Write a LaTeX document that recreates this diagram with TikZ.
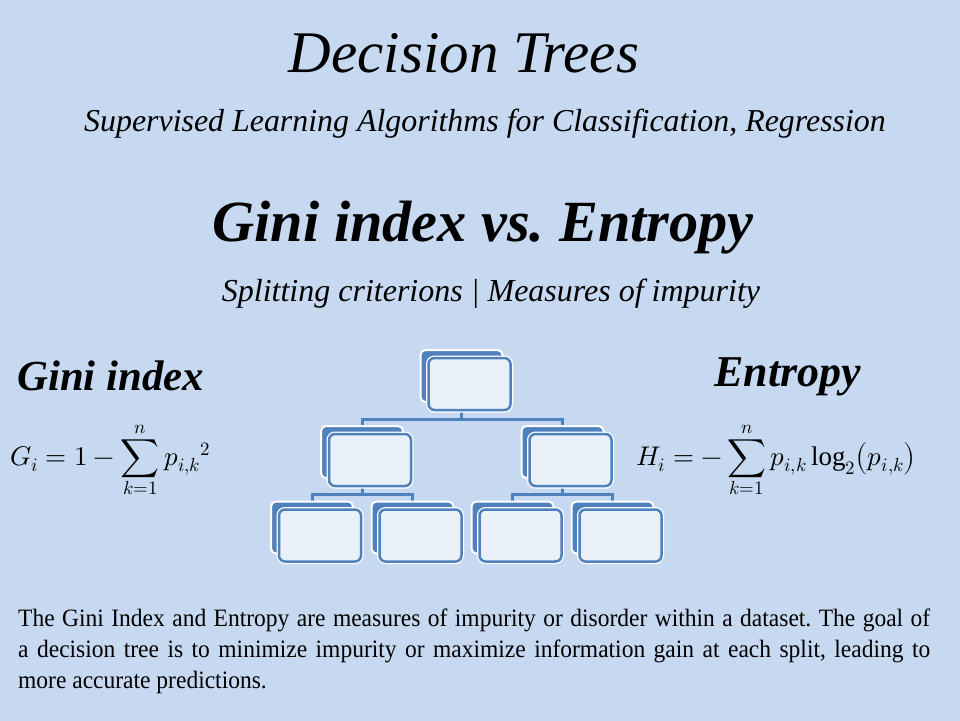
\documentclass[tikz,border=0pt]{standalone}
\usepackage{fontspec}
\usepackage{unicode-math}
\setmainfont{Liberation Serif}
\setmathfont{Latin Modern Math}
\newfontfamily\bodyfont[FakeStretch=0.94]{Liberation Serif}
\usetikzlibrary{backgrounds}
\definecolor{slide}{RGB}{198,217,240}
\definecolor{boxblue}{RGB}{79,129,189}
\definecolor{boxfill}{RGB}{234,240,248}
\frenchspacing

\begin{document}
\begin{tikzpicture}[x=1pt,y=-1pt]
\useasboundingbox (0,0) rectangle (960,720);

\begin{scope}[every node/.style={inner sep=0pt}]
    \node (title)[anchor=base, font=\itshape\fontsize{59}{62}\selectfont] at (464,72) {Decision Trees};
    \node (sub)[anchor=base, font=\itshape\fontsize{31.9}{34}\selectfont] at (485,131) {Supervised Learning Algorithms for Classification, Regression};
    \node (head)[anchor=base, font=\bfseries\itshape\fontsize{58.3}{61}\selectfont] at (483,241) {Gini index vs. Entropy};
    \node (crit)[anchor=base, font=\itshape\fontsize{32}{34}\selectfont] at (491,301) {Splitting criterions | Measures of impurity};
    \node (gname)[anchor=base west, font=\bfseries\itshape\fontsize{42.8}{46}\selectfont] at (17,390) {Gini index};
    \node (ename)[anchor=base west, font=\bfseries\itshape\fontsize{44}{46}\selectfont] at (714,386) {Entropy};
    \node (gini)[anchor=base west, font=\fontsize{27}{30}\selectfont] at (10,465)
        {$G_i = 1 - \displaystyle\sum_{k=1}^{n} {p_{i,k}}^2$};
    \node (ent)[anchor=base west, font=\fontsize{27}{30}\selectfont] at (636,465)
        {$H_i = -\displaystyle\sum_{k=1}^{n} p_{i,k}\log_2\!\left(p_{i,k}\right)$};
    \node (note)[anchor=north west, text width=912pt, align=justify, font=\bodyfont\fontsize{25}{31}\selectfont] at (18,609)
        {The Gini Index and Entropy are measures of impurity or disorder within a dataset. The goal of\linebreak
         a decision tree is to minimize impurity or maximize information gain at each split, leading to\linebreak
         more accurate predictions.};
\end{scope}

\begin{scope}[every node/.style={draw=white, line width=2pt, fill=boxblue, rounded corners=5pt,
                                 minimum width=82pt, minimum height=52pt, inner sep=0pt}]
    \node (A) at (461.5,376) {};
    \node (B) at (362,452) {};
    \node (C) at (562.5,452) {};
    \node (D) at (312,527.5) {};
    \node (E) at (412.5,527.5) {};
    \node (F) at (512.5,527.5) {};
    \node (G) at (612.5,527.5) {};
\end{scope}

\begin{scope}[every node/.style={draw=boxblue, line width=2.5pt, fill=boxfill, rounded corners=6pt,
                                 preaction={draw=white, line width=5pt},
                                 minimum width=82pt, minimum height=52pt, inner sep=0pt}]
    \node (a) at ([shift={(8,8)}]A) {};
    \node (b) at ([shift={(8,8)}]B) {};
    \node (c) at ([shift={(8,8)}]C) {};
    \node (d) at ([shift={(8,8)}]D) {};
    \node (e) at ([shift={(8,8)}]E) {};
    \node (f) at ([shift={(8,8)}]F) {};
    \node (g) at ([shift={(8,8)}]G) {};
\end{scope}

\begin{scope}[on background layer, every path/.style={draw=boxblue, line width=3pt}]
    \fill[slide] (0,0) rectangle (960,720);
    \path (A.center) -- ++(0,43) -| (B.center);
    \path (A.center) -- ++(0,43) -| (C.center);
    \path (B.center) -- ++(0,42) -| (D.center);
    \path (B.center) -- ++(0,42) -| (E.center);
    \path (C.center) -- ++(0,42) -| (F.center);
    \path (C.center) -- ++(0,42) -| (G.center);
\end{scope}
\end{tikzpicture}
\end{document}
